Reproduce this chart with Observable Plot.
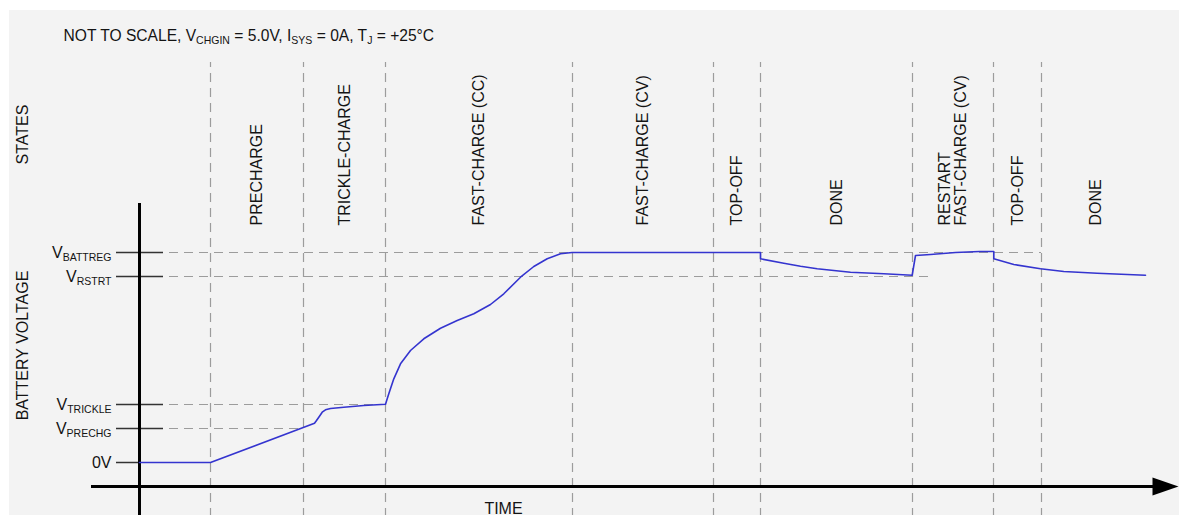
<!DOCTYPE html>
<html>
<head>
<meta charset="utf-8">
<script src="https://cdn.jsdelivr.net/npm/d3@7"></script>
<script src="https://cdn.jsdelivr.net/npm/@observablehq/plot@0.6"></script>
<style>
  html, body { margin: 0; padding: 0; background: #fff; }
  #chart svg { display: block; }
  #chart text { white-space: pre; }
</style>
</head>
<body>
<div id="chart"></div>
<script>
// ---------- data (schematic, not to scale; time and voltage in arbitrary units) ----------
const titleText = "NOT TO SCALE, V_{CHGIN} = 5.0V, I_{SYS} = 0A, T_{J} = +25°C";
const statesTitle = "STATES";
const voltageTitle = "BATTERY VOLTAGE";
const timeTitle = "TIME";

const stateNames = ["PRECHARGE", "TRICKLE-CHARGE", "FAST-CHARGE (CC)", "FAST-CHARGE (CV)", "TOP-OFF", "DONE", "RESTART\nFAST-CHARGE (CV)", "TOP-OFF", "DONE"];
// state start times, plus end of the last state
const stateBounds = [7.1, 16.4, 24.6, 43.3, 57.4, 62.1, 77.3, 85.4, 90.2, 101.1];

const levelLabels = ["V_{BATTREG}", "V_{RSTRT}", "V_{TRICKLE}", "V_{PRECHG}", "0V"];
const levelValues = [4.2, 3.72, 1.16, 0.68, 0];
const levelGuideEnds = [90.2, 79.1, 24.6, 16.4, 0];

const curveTime = [0, 7.1, 17.5, 17.7, 17.93, 18.27, 18.6, 19.1, 20.43, 22.43, 24.6,
  24.93, 25.43, 26.1, 27.1, 28.43, 30.1, 31.77, 33.43, 35.1, 36.43, 38.1, 39.43, 40.77, 42.1, 43.27,
  62.1, 62.1, 64.43, 66.1, 67.77, 71.1, 74.43, 77.27, 77.6, 79.1, 81.6, 84.0, 85.43,
  85.43, 87.43, 90.1, 92.43, 95.77, 100.6];
const curveVolt = [0, 0, 0.786, 0.84, 0.906, 1.006, 1.054, 1.08, 1.106, 1.14, 1.166,
  1.374, 1.674, 1.974, 2.24, 2.474, 2.686, 2.84, 2.974, 3.16, 3.374, 3.706, 3.92, 4.074, 4.174, 4.2,
  4.2, 4.074, 3.986, 3.926, 3.874, 3.806, 3.774, 3.746, 4.14, 4.16, 4.2, 4.22, 4.22,
  4.074, 3.96, 3.874, 3.82, 3.786, 3.746];

// ---------- tables built from the arrays ----------
const states = stateNames.map((name, i) => ({name, start: stateBounds[i], end: stateBounds[i + 1]}));
const boundaries = stateBounds.slice(0, -1);
const levels = levelLabels.map((label, i) => ({label, v: levelValues[i], end: levelGuideEnds[i]}));
const curve = curveTime.map((t, i) => ({t, v: curveVolt[i]}));

const ink = "#141414";
const guide = "#9c9c9c";
const font = "'Liberation Sans', Arial, sans-serif";

// custom filled arrowhead symbol
const arrowHead = {
  draw(ctx, size) {
    const r = Math.sqrt(size / Math.PI);
    ctx.moveTo(r, 0);
    ctx.lineTo(-r, -0.7 * r);
    ctx.lineTo(-r, 0.7 * r);
    ctx.closePath();
  }
};

const yAxisTop = 5.18, yAxisBottom = -1.1, xAxisV = -0.48, xAxisLeft = -4.8, xAxisRight = 101.4;

const chart = Plot.plot({
  width: 1179,
  height: 515,
  margin: 0,
  style: `background: linear-gradient(#f3f3f3,#f3f3f3) 9px 10px / 100% 100% no-repeat, #fff; overflow: visible; font-family: ${font}; font-size: 16px; color: ${ink};`,
  x: {domain: [0, 100], range: [139, 1139], axis: null},
  y: {domain: [0, 4.2], range: [462, 252], axis: null},
  marks: [
    // state boundaries
    Plot.ruleX(boundaries, {x: d => d, y1: yAxisBottom, y2: 8.0, stroke: guide, strokeWidth: 1.2, strokeDasharray: "9,6"}),
    // level guides
    Plot.ruleY(levels.filter(d => d.end > 0), {y: "v", x1: 0, x2: "end", stroke: guide, strokeWidth: 1.2, strokeDasharray: "9,6"}),
    // level ticks
    Plot.ruleY(levels, {y: "v", x1: -2.3, x2: d => d.v === 0 ? 0 : 2.4, stroke: "#333", strokeWidth: 1.5}),
    // axes
    Plot.ruleX([0], {x: d => d, y1: yAxisBottom, y2: yAxisTop, stroke: "#000", strokeWidth: 3}),
    Plot.ruleY([xAxisV], {y: d => d, x1: xAxisLeft, x2: xAxisRight, stroke: "#000", strokeWidth: 3}),
    Plot.dot([xAxisV], {x: 102.6, y: d => d, r: 13, symbol: arrowHead, fill: "#000", stroke: "none"}),
    // voltage curve
    Plot.line(curve, {x: "t", y: "v", stroke: "#3434cf", strokeWidth: 1.6, curve: "linear"}),
    // level labels
    Plot.text(levels, {x: 0, y: "v", text: "label", dx: -28, textAnchor: "end", lineAnchor: "middle", fontSize: 16, fill: ink}),
    // state labels
    Plot.text(states, {x: d => (d.start + d.end) / 2, y: 4.74, text: "name", rotate: -90, textAnchor: "start", lineAnchor: "middle", fontSize: 16, fill: ink}),
    // titles
    Plot.text([titleText], {text: d => d, frameAnchor: "top-left", dx: 63, dy: 35, textAnchor: "start", lineAnchor: "middle", fontSize: 15.6, fill: ink}),
    Plot.text([statesTitle], {text: d => d, y: 6.56, frameAnchor: "left", dx: 22, rotate: -90, textAnchor: "middle", lineAnchor: "middle", fontSize: 16, fill: ink}),
    Plot.text([voltageTitle], {text: d => d, y: 2.34, frameAnchor: "left", dx: 22, rotate: -90, textAnchor: "middle", lineAnchor: "middle", fontSize: 16, fill: ink}),
    Plot.text([timeTitle], {text: d => d, x: 36.4, y: -0.92, textAnchor: "middle", lineAnchor: "middle", fontSize: 16, fill: ink})
  ]
});

// turn "_{...}" markup into real subscript tspans
const NS = "http://www.w3.org/2000/svg";
chart.querySelectorAll("text, tspan").forEach(el => {
  if (el.children.length) return;
  const s = el.textContent;
  if (!s.includes("_{")) return;
  const parts = s.split(/_\{([^}]*)\}/);
  el.textContent = "";
  parts.forEach((p, i) => {
    if (!p) return;
    const ts = document.createElementNS(NS, "tspan");
    ts.textContent = p;
    if (i % 2 === 1) { ts.setAttribute("font-size", "10.5"); ts.setAttribute("dy", "3.5"); }
    else if (i > 0) { ts.setAttribute("dy", "-3.5"); }
    el.appendChild(ts);
  });
});

document.getElementById("chart").appendChild(chart);
</script>
</body>
</html>
